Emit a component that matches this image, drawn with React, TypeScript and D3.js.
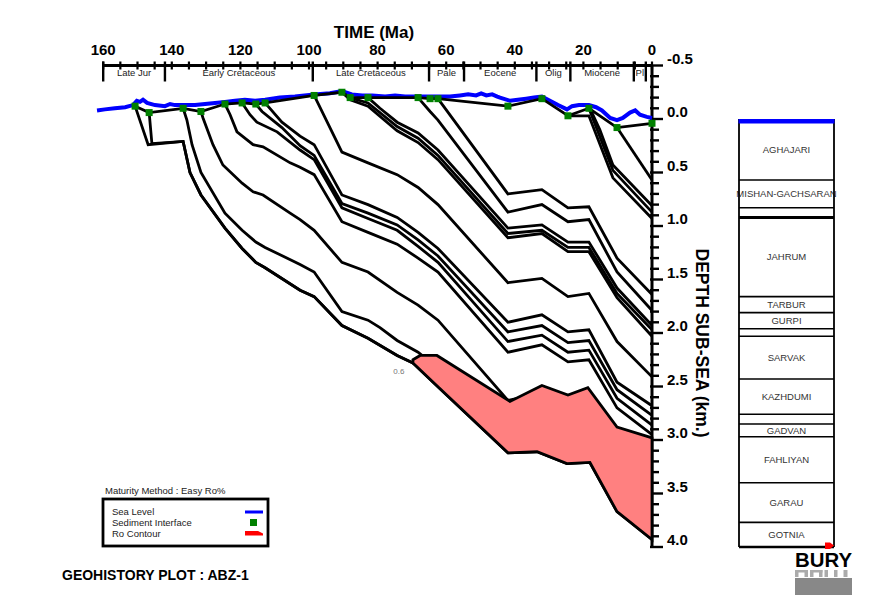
import React from 'react';
import * as d3 from 'd3';

type Pt = [number, number]; // [age (Ma), depth (km)]

// ---- Axes ----
const timeLabels = [160, 140, 120, 100, 80, 60, 40, 20, 0];
const depthLabels = [-0.5, 0.0, 0.5, 1.0, 1.5, 2.0, 2.5, 3.0, 3.5, 4.0];
const epochNames = ['Late Jur', 'Early Cretaceous', 'Late Cretaceous', 'Pale', 'Eocene', 'Olig', 'Miocene', 'Pl'];
const epochBounds = [160, 142, 98.9, 65, 54.8, 33.7, 23.8, 5.3, 1.8];

// ---- Sediment-water interface (with deposition events) ----
const sedimentInterface: Pt[] = [
  [150.7, -0.12], [146.6, -0.06], [136.7, -0.10], [131.5, -0.07], [124.5, -0.14], [119.5, -0.15],
  [115.5, -0.14], [112.8, -0.15], [98.5, -0.22], [90.4, -0.25], [88.0, -0.20], [82.8, -0.20],
  [68.2, -0.20], [64.7, -0.19], [62.4, -0.19], [42.0, -0.12], [32.1, -0.19], [24.5, -0.03],
  [18.4, -0.10], [10.2, 0.08], [0, 0.04],
];

// ---- Eustatic sea level ----
const seaLevel: Pt[] = [
  [161.8, -0.08], [159.5, -0.09], [156.6, -0.10], [153.6, -0.11], [151.3, -0.13], [150.2, -0.17],
  [149.3, -0.16], [148.4, -0.18], [147.2, -0.15], [144.9, -0.13], [142.0, -0.12], [140.5, -0.14],
  [139.1, -0.13], [136.2, -0.13], [133.2, -0.13], [130.3, -0.14], [127.4, -0.15], [124.5, -0.16],
  [121.6, -0.17], [118.7, -0.18], [115.7, -0.17], [112.8, -0.18], [108.5, -0.20], [104.1, -0.21],
  [98.5, -0.23], [93.9, -0.24], [90.4, -0.26], [87.5, -0.23], [84.5, -0.22], [81.6, -0.22],
  [77.8, -0.21], [74.9, -0.22], [72.0, -0.21], [68.2, -0.21], [64.7, -0.21], [61.8, -0.21],
  [58.9, -0.21], [56.0, -0.22], [53.6, -0.23], [51.3, -0.22], [49.8, -0.24], [48.3, -0.22],
  [46.6, -0.23], [45.1, -0.21], [44.3, -0.20], [41.4, -0.17], [39.1, -0.18], [36.7, -0.19],
  [34.4, -0.20], [32.1, -0.21], [30.3, -0.18], [27.4, -0.13], [24.8, -0.09], [23.3, -0.12],
  [21.3, -0.13], [18.4, -0.13], [16.3, -0.11], [14.6, -0.08], [12.2, -0.01], [10.2, 0.01],
  [8.5, -0.01], [6.4, -0.06], [4.9, -0.08], [3.5, -0.04], [1.5, -0.02], [0, -0.01],
];

// ---- Burial paths of horizons (named by deposition age) ----
const h150_7: Pt[] = [
  [150.7, -0.12], [146.9, 0.24], [136.7, 0.21], [134.7, 0.50], [131.5, 0.71], [124.5, 1.02],
  [119.5, 1.21], [115.5, 1.34], [112.8, 1.39], [102.6, 1.60], [98.5, 1.66], [90.4, 1.93],
  [82.8, 2.05], [74.3, 2.21], [69.7, 2.28], [63.8, 2.46], [42.0, 3.12], [33.5, 3.11],
  [24.8, 3.22], [18.1, 3.21], [10.2, 3.67], [0, 3.93],
];
const h146_6: Pt[] = [
  [146.6, -0.06], [145.8, 0.23], [136.7, 0.21], [134.7, 0.50], [131.5, 0.71], [124.5, 1.02],
  [119.5, 1.21], [115.5, 1.34], [112.8, 1.39], [102.6, 1.60], [98.5, 1.66], [90.4, 1.93],
  [82.8, 2.05], [74.3, 2.21], [69.7, 2.28], [62.4, 2.42], [42.0, 3.05], [32.1, 3.03],
  [24.5, 3.14], [18.4, 3.12], [10.2, 3.55], [0, 3.77],
];
const h136_7: Pt[] = [
  [136.7, -0.10], [135.6, 0.01], [134.1, 0.24], [131.5, 0.50], [124.5, 0.88], [119.5, 1.04],
  [115.5, 1.15], [112.8, 1.20], [102.6, 1.36], [98.5, 1.43], [90.4, 1.80], [82.8, 1.88],
  [79.3, 1.95], [74.3, 2.07], [68.2, 2.18], [62.4, 2.33], [42.0, 2.95], [32.1, 2.88],
  [24.5, 3.00], [18.4, 2.97], [10.2, 3.30], [0, 3.40],
];
const h131_5: Pt[] = [
  [131.5, -0.07], [130.9, -0.01], [128.0, 0.24], [125.1, 0.43], [119.5, 0.60], [116.3, 0.68],
  [113.4, 0.71], [105.5, 0.88], [102.6, 0.94], [98.5, 1.04], [90.4, 1.34], [82.8, 1.43],
  [74.3, 1.62], [68.2, 1.74], [62.4, 1.88], [42.0, 2.63], [32.1, 2.56], [24.5, 2.70],
  [18.4, 2.66], [10.2, 3.00], [0, 3.10],
];
const h124_5: Pt[] = [
  [124.5, -0.14], [123.0, -0.04], [121.0, 0.12], [116.3, 0.24], [113.4, 0.26], [105.5, 0.41],
  [102.6, 0.45], [98.5, 0.52], [90.4, 0.96], [82.8, 1.06], [74.3, 1.17], [68.2, 1.30],
  [62.4, 1.43], [42.0, 2.18], [32.1, 2.11], [24.5, 2.27], [18.4, 2.25], [10.2, 2.70], [0, 2.95],
];
const h119_5: Pt[] = [
  [119.5, -0.15], [117.2, -0.04], [115.2, 0.03], [109.3, 0.12], [102.6, 0.29], [98.5, 0.38],
  [90.4, 0.83], [82.8, 0.93], [74.3, 1.04], [68.2, 1.19], [62.4, 1.34], [42.0, 2.08],
  [32.1, 2.02], [24.5, 2.18], [18.4, 2.16], [10.2, 2.61], [0, 2.86],
];
const h115_5: Pt[] = [
  [115.5, -0.14], [113.7, -0.07], [107.9, 0.08], [102.6, 0.25], [98.5, 0.34], [90.4, 0.79],
  [82.8, 0.88], [74.3, 0.99], [68.2, 1.13], [62.4, 1.28], [42.0, 1.99], [32.1, 1.93],
  [24.5, 2.09], [18.4, 2.07], [10.2, 2.53], [0, 2.77],
];
const h112_8: Pt[] = [
  [112.8, -0.15], [107.9, 0.03], [102.6, 0.16], [98.5, 0.24], [90.4, 0.71], [82.8, 0.80],
  [74.3, 0.92], [68.2, 1.06], [62.4, 1.21], [42.0, 1.90], [32.1, 1.83], [24.5, 1.99],
  [18.4, 1.97], [10.2, 2.46], [0, 2.68],
];
const h98_5: Pt[] = [
  [98.5, -0.22], [90.4, 0.31], [82.8, 0.41], [74.3, 0.52], [68.2, 0.64], [62.4, 0.80],
  [42.0, 1.53], [32.1, 1.49], [24.5, 1.66], [18.4, 1.63], [10.2, 2.08], [0, 2.41],
];
const h90_4: Pt[] = [
  [90.4, -0.25], [88.0, -0.18], [82.8, -0.12], [74.3, 0.11], [68.2, 0.22], [62.4, 0.38],
  [42.0, 1.11], [32.1, 1.07], [24.5, 1.24], [18.4, 1.24], [10.2, 1.67], [0, 2.03],
];
const h88_0: Pt[] = [
  [88.0, -0.20], [82.8, -0.15], [74.3, 0.07], [68.2, 0.18], [62.4, 0.34], [42.0, 1.07],
  [32.1, 1.04], [24.5, 1.20], [18.4, 1.20], [10.2, 1.63], [0, 1.97],
];
const h82_8: Pt[] = [
  [82.8, -0.20], [79.3, -0.10], [74.3, 0.03], [68.2, 0.13], [62.4, 0.29], [42.0, 1.02],
  [32.1, 0.99], [24.5, 1.15], [18.4, 1.15], [10.2, 1.58], [0, 1.93],
];
const h68_2: Pt[] = [
  [68.2, -0.20], [64.7, -0.07], [62.4, 0.01], [42.0, 0.87], [32.1, 0.80], [24.5, 0.96],
  [18.4, 0.94], [10.2, 1.43], [0, 1.79],
];
const h62_4: Pt[] = [
  [62.4, -0.19], [42.0, 0.70], [32.1, 0.66], [24.5, 0.83], [18.4, 0.82], [10.2, 1.30], [0, 1.64],
];
const h24_5: Pt[] = [[24.5, -0.03], [18.4, -0.03], [11.4, 0.55], [0, 0.93]];
const h18_4: Pt[] = [[18.4, -0.10], [11.4, 0.48], [0, 0.87]];
const h18_1: Pt[] = [[18.1, -0.10], [15.2, 0.10], [11.4, 0.43], [0, 0.81]];
const h10_2: Pt[] = [[10.2, 0.08], [0, 0.57]];

const horizons: Pt[][] = [
  h150_7, h146_6, h136_7, h131_5, h124_5, h119_5, h115_5, h112_8, h98_5,
  h90_4, h88_0, h82_8, h68_2, h62_4, h24_5, h18_4, h18_1, h10_2,
];

// ---- Ro 0.6% contour and the base of the mature zone ----
const roContourTop: Pt[] = [
  [69.7, 2.25], [67.6, 2.21], [62.7, 2.21], [41.4, 2.64], [32.1, 2.49], [24.5, 2.58],
  [18.7, 2.51], [10.2, 2.88], [0, 2.98],
];
const roContourBase: Pt[] = [
  [69.7, 2.28], [63.8, 2.46], [42.0, 3.12], [33.5, 3.11], [24.8, 3.22], [18.1, 3.21],
  [10.2, 3.67], [0, 3.93],
];
const roLabel = '0.6';

// ---- Present-day stratigraphic column ----
const formationNames = [
  'AGHAJARI', 'MISHAN-GACHSARAN', '', 'JAHRUM', 'TARBUR', 'GURPI', '', 'SARVAK',
  'KAZHDUMI', '', 'GADVAN', 'FAHLIYAN', 'GARAU', 'GOTNIA',
];
const formationTops = [0, 0.57, 0.83, 0.92, 1.66, 1.81, 1.96, 2.03, 2.43, 2.76, 2.85, 2.97, 3.40, 3.77];
const formationBases = [0.57, 0.83, 0.92, 1.66, 1.81, 1.96, 2.03, 2.43, 2.76, 2.85, 2.97, 3.40, 3.77, 4.0];

const FONT = "'Liberation Sans', Arial, Helvetica, sans-serif";

export default function App() {
  const x = d3.scaleLinear().domain([160, 0]).range([103.2, 652]);
  const y = d3.scaleLinear().domain([-0.5, 4.0]).range([65.5, 547]);
  const line = d3.line<Pt>().x((d) => x(d[0])).y((d) => y(d[1]));

  const axisY = y(-0.5);
  const axisX = x(0);
  const minorTime = d3.range(0, 160.01, 5);
  const depthTicks = d3.range(-5, 41).map((i) => i / 10);

  const roPolygon: Pt[] = [...roContourTop, ...roContourBase.slice().reverse()];

  const colX0 = 739;
  const colX1 = 834;

  return (
    <svg
      width={869}
      height={601}
      viewBox="0 0 869 601"
      style={{ position: 'absolute', left: 0, top: 0, background: '#fff' }}
      fontFamily={FONT}
    >
      <rect x={0} y={0} width={869} height={601} fill="#fff" />

      {/* Time axis */}
      <text x={374} y={38} fontSize={17} fontWeight="bold" textAnchor="middle">TIME (Ma)</text>
      {timeLabels.map((t) => (
        <text key={`tl${t}`} x={x(t)} y={55} fontSize={15} fontWeight="bold" textAnchor="middle">{t}</text>
      ))}
      <line x1={x(160)} x2={axisX} y1={axisY} y2={axisY} stroke="#000" strokeWidth={3} />
      {minorTime.map((t) => (
        <line key={`tt${t}`} x1={x(t)} x2={x(t)} y1={axisY - 4} y2={axisY + 4} stroke="#000" strokeWidth={2.2} />
      ))}
      {epochBounds.map((t) => (
        <line key={`eb${t}`} x1={x(t)} x2={x(t)} y1={axisY - 4} y2={axisY + 16} stroke="#000" strokeWidth={2.4} />
      ))}
      {epochNames.map((n, i) => {
        const a = epochBounds[i];
        const b = i + 1 < epochBounds.length ? epochBounds[i + 1] : 0;
        return (
          <text key={n} x={(x(a) + x(b)) / 2} y={76} fontSize={9.5} textAnchor="middle" fill="#222">{n}</text>
        );
      })}

      {/* Depth axis */}
      <line x1={axisX} x2={axisX} y1={axisY} y2={y(4)} stroke="#000" strokeWidth={3} />
      {depthTicks.map((d) => {
        const major = Math.abs(d * 2 - Math.round(d * 2)) < 1e-6;
        return (
          <line key={`dt${d}`} x1={axisX - 2} x2={axisX + (major ? 11 : 7)} y1={y(d)} y2={y(d)} stroke="#000" strokeWidth={2.4} />
        );
      })}
      {depthLabels.map((d) => (
        <text key={`dl${d}`} x={667} y={y(d) - 2} fontSize={15} fontWeight="bold">{d.toFixed(1)}</text>
      ))}
      <text
        x={702}
        y={343}
        fontSize={17.5}
        fontWeight="bold"
        textAnchor="middle"
        dominantBaseline="central"
        transform="rotate(90 702 343)"
      >
        DEPTH SUB-SEA (km.)
      </text>

      {/* Burial curves */}
      {horizons.map((h, i) => (
        <path key={`h${i}`} d={line(h) || ''} fill="none" stroke="#000" strokeWidth={2.8} strokeLinejoin="miter" strokeMiterlimit={3} />
      ))}

      {/* Ro contour zone */}
      <path d={(line(roPolygon) || '') + 'Z'} fill="#ff8080" stroke="#000" strokeWidth={2.8} strokeLinejoin="miter" strokeMiterlimit={3} />
      <text x={x(roContourTop[0][0]) - 14} y={y(roContourTop[0][1]) + 14} fontSize={8} fill="#777" textAnchor="middle">{roLabel}</text>

      {/* Sea level and sediment interface */}
      <path d={line(seaLevel) || ''} fill="none" stroke="#0000ff" strokeWidth={4} strokeLinejoin="miter" strokeMiterlimit={2} />
      <path d={line(sedimentInterface) || ''} fill="none" stroke="#000" strokeWidth={2.8} />
      {sedimentInterface.map((p, i) => (
        <rect key={`sq${i}`} x={x(p[0]) - 3.5} y={y(p[1]) - 3.5} width={7} height={7} fill="#008000" />
      ))}

      {/* Legend */}
      <text x={105} y={494} fontSize={9.5} fill="#222">Maturity Method : Easy Ro%</text>
      <rect x={103} y={499} width={165} height={47} fill="#fff" stroke="#000" strokeWidth={2.8} />
      <text x={112} y={515} fontSize={9.5} fill="#222">Sea Level</text>
      <text x={112} y={526} fontSize={9.5} fill="#222">Sediment Interface</text>
      <text x={112} y={537} fontSize={9.5} fill="#222">Ro Contour</text>
      <line x1={245} x2={263} y1={512} y2={512} stroke="#0000ff" strokeWidth={3} />
      <rect x={250} y={519} width={7} height={7} fill="#008000" />
      <polygon points="245,531 258,531 263,533.5 263,535.5 245,535.5" fill="#ff0000" />

      {/* Title */}
      <text x={62} y={580} fontSize={14} fontWeight="bold">GEOHISTORY PLOT : ABZ-1</text>

      {/* Stratigraphic column */}
      {formationNames.map((n, i) => {
        const yt = y(formationTops[i]);
        const yb = y(formationBases[i]);
        return (
          <g key={`f${i}`}>
            <line x1={colX0} x2={colX1} y1={yb} y2={yb} stroke="#000" strokeWidth={i === 2 ? 3 : 1.6} />
            {n && (
              <text x={(colX0 + colX1) / 2} y={(yt + yb) / 2 + 3.4} fontSize={9.5} textAnchor="middle" fill="#333">{n}</text>
            )}
          </g>
        );
      })}
      <line x1={colX0} x2={colX0} y1={y(0)} y2={y(4)} stroke="#000" strokeWidth={1.8} />
      <line x1={colX1} x2={colX1} y1={y(0)} y2={y(4)} stroke="#000" strokeWidth={1.8} />
      <line x1={colX0} x2={colX1} y1={y(4)} y2={y(4)} stroke="#000" strokeWidth={2.6} />
      <rect x={colX0 - 0.5} y={y(0)} width={colX1 - colX0 + 1} height={4.5} fill="#0000ff" />
      <polygon points="825,542.5 830,542.5 834,545.5 830,549 825,549" fill="#ff0000" />

      {/* Logo with its mirrored shadow */}
      <text x={795} y={567} fontSize={21} fontWeight="bold" textLength={57} lengthAdjust="spacingAndGlyphs">BURY</text>
      <g fill="#ababab">
        <rect x={795} y={570} width={13} height={2.5} />
        <rect x={795} y={570} width={3.5} height={7} />
        <rect x={804.5} y={572} width={3.5} height={5} />
        <rect x={810} y={570} width={12.5} height={2.5} />
        <rect x={810} y={570} width={3.5} height={7} />
        <rect x={819} y={570} width={3.5} height={7} />
        <rect x={824.5} y={570} width={3.5} height={7} />
        <rect x={834} y={570} width={3.5} height={7} />
        <rect x={843.5} y={570} width={4} height={7} />
      </g>
      <rect x={795} y={578} width={57} height={17} fill="#888" />
    </svg>
  );
}
